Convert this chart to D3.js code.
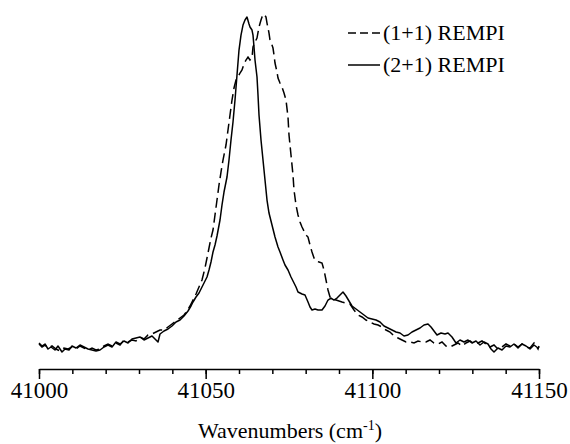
<!DOCTYPE html>
<html>
<head>
<meta charset="utf-8">
<script src="https://d3js.org/d3.v7.min.js"></script>
<style>
  body { margin: 0; background: #fff; }
  text { font-family: "Liberation Serif", "DejaVu Serif", serif; fill: #000; }
</style>
</head>
<body>
<div id="my_dataviz"></div>
<script>

// (1+1) REMPI, dashed trace
var wn11 = [41000,41000.9,41001.8,41002.7,41003.9,41005.1,41006.3,41007.5,41008.7,41009.9,41011.1,41012.3,41013.5,41014.7,41015.9,41017.1,41018.3,41019.5,41020.7,41021.9,41023.1,41024.3,41025.5,41026.7,41027.9,41029.1,41030.3,41031.5,41032.7,41033.9,41035.1,41036.3,41037.5,41038.7,41039.9,41041.1,41042.3,41043.5,41044.4,41045.3,41046.2,41047.1,41048.0,41048.9,41049.8,41050.4,41051.0,41051.6,41052.2,41052.8,41053.4,41054.0,41054.6,41055.2,41056.1,41056.7,41057.3,41057.9,41058.5,41059.1,41059.7,41060.3,41060.9,41061.5,41062.1,41062.7,41063.3,41063.9,41064.2,41064.8,41065.4,41066.0,41066.6,41066.9,41067.5,41068.1,41068.4,41069.0,41069.3,41069.9,41070.2,41070.5,41070.8,41071.4,41071.7,41072.3,41072.9,41073.5,41074.1,41074.7,41075.0,41075.6,41076.2,41076.5,41077.1,41077.7,41078.3,41078.9,41079.5,41080.1,41080.7,41081.3,41081.9,41082.5,41083.1,41084.0,41084.9,41085.5,41086.1,41086.7,41087.3,41088.2,41089.1,41090.0,41090.9,41092.1,41093.3,41094.5,41095.7,41096.9,41098.1,41099.3,41100.5,41101.7,41102.9,41104.1,41105.3,41106.5,41107.7,41108.9,41110.1,41111.3,41112.5,41113.7,41114.9,41116.1,41117.3,41118.5,41119.7,41120.9,41122.1,41123.3,41124.5,41125.7,41126.9,41128.1,41129.3,41130.5,41131.7,41132.9,41134.1,41135.3,41136.5,41137.7,41138.9,41140.1,41141.3,41142.5,41143.7,41144.9,41146.1,41147.3,41148.5,41149.7,41150];
var int11 = [1.8,0.9,1.5,0.6,1.2,0.3,-0.3,0.6,0.3,0.9,0.3,1.2,0.6,0,0.6,0,0.3,1.2,1.8,1.2,2.1,1.5,3.0,2.4,3.0,2.7,3.9,3.3,4.5,4.8,5.4,6.0,6.0,6.9,7.8,8.7,9.6,10.5,11.7,13.2,15.0,16.8,18.9,21.0,24.6,27.6,30.6,33.6,36.0,40.5,45.0,49.5,53.4,57.0,61.5,66.0,70.5,75.0,78.6,81.0,81.9,83.1,84.0,85.8,87.0,87.9,87.0,87.6,90.9,92.4,93.6,96.9,99.0,99.9,100.8,99.9,98.1,95.1,93.0,91.5,90.6,88.5,86.1,83.4,81.6,80.1,78.9,77.1,75.0,69.9,64.5,58.5,52.5,48.0,43.5,40.5,38.4,36.9,35.7,34.5,33.9,31.5,29.4,27.6,26.7,26.4,26.1,24.0,21.0,18.0,15.9,15.3,15.0,14.7,14.4,14.1,13.8,12.0,10.5,9.9,9.0,8.4,7.8,7.5,6.9,6.0,5.4,4.2,3.6,3.0,2.4,2.4,2.1,2.7,2.4,2.4,3.0,2.1,1.8,2.4,1.2,0.9,1.5,2.1,1.2,2.1,2.7,1.8,2.1,2.7,1.8,0.9,1.5,0.3,0.9,1.8,1.2,1.8,0.9,1.8,0.9,0.6,2.1,0.3,1.2];

// (2+1) REMPI, solid trace
var wn21 = [41000,41000.9,41001.8,41002.7,41003.6,41004.8,41005.7,41006.9,41007.8,41009.0,41009.9,41011.1,41012.3,41013.5,41014.7,41015.9,41017.1,41018.3,41019.5,41020.7,41021.9,41023.1,41024.3,41025.5,41026.7,41027.9,41029.1,41030.3,41031.5,41032.7,41033.9,41034.8,41035.7,41036.3,41037.5,41038.7,41039.9,41041.1,41042.3,41043.5,41044.7,41045.6,41046.2,41047.1,41048.0,41048.9,41049.8,41050.4,41051.0,41051.6,41052.2,41052.8,41053.4,41054.3,41054.9,41055.5,41056.4,41057.0,41057.6,41058.2,41058.8,41059.4,41060.0,41060.6,41061.2,41061.8,41062.4,41063.0,41063.3,41063.9,41064.2,41064.5,41064.8,41065.4,41065.7,41066.0,41066.6,41067.2,41067.8,41068.4,41069.0,41069.9,41070.8,41071.7,41072.3,41073.2,41073.8,41074.7,41075.6,41076.2,41077.1,41077.7,41078.9,41079.8,41080.7,41081.3,41081.9,41082.8,41083.7,41084.9,41085.8,41086.7,41087.6,41088.5,41089.4,41090.3,41091.2,41092.1,41093.0,41093.9,41095.1,41096.3,41097.5,41098.7,41099.9,41101.1,41102.3,41103.5,41104.7,41105.9,41107.1,41108.3,41109.5,41110.7,41111.9,41113.1,41114.3,41115.5,41116.7,41117.6,41118.5,41119.4,41120.6,41121.8,41122.7,41123.9,41125.1,41126.3,41127.5,41128.7,41129.9,41131.1,41132.3,41133.5,41134.7,41135.6,41136.5,41137.7,41138.9,41140.1,41141.3,41142.5,41143.7,41144.9,41146.1,41147.3,41148.5,41149.7,41150];
var int21 = [2.1,1.2,1.8,0.3,0.9,0,1.2,-0.6,0.3,0,1.2,0.6,1.5,0.9,0.3,0,-0.3,0,0.9,1.5,0.9,2.4,1.8,2.7,2.1,3.3,3.6,3.9,3.0,3.6,4.2,3.3,2.4,4.8,5.7,6.3,7.2,8.4,9.0,10.2,11.7,13.2,14.4,15.9,17.1,18.9,20.7,21.9,24.0,26.4,29.4,31.5,34.2,39.0,43.5,47.4,51.9,57.0,63.0,68.4,75.0,82.5,90.0,94.5,97.5,99.0,99.9,97.8,96.9,96.0,94.5,90.9,87.0,81.9,76.5,70.5,63.0,57.0,51.0,45.0,41.1,37.5,33.9,30.9,29.4,27.0,25.5,24.0,21.9,20.7,18.9,17.4,16.8,16.5,14.4,12.9,12.0,12.3,12.0,12.0,13.2,15.0,15.6,15.0,15.6,16.5,17.4,16.2,14.7,13.2,12.3,11.4,10.5,9.6,9.3,9.0,8.4,7.2,6.6,6.0,5.4,5.1,4.2,4.5,5.4,6.0,6.6,7.5,7.8,6.9,5.7,4.5,5.1,4.8,5.1,3.9,2.1,3.0,2.4,3.0,2.1,2.7,1.5,2.4,1.8,0.3,-0.6,0.6,0,1.2,0.9,1.8,0.6,1.8,1.2,0.3,1.5,0.6,0.9];

var majorTicks = [41000, 41050, 41100, 41150];
var minorTicks = d3.range(41000, 41151, 10);
var legendLabels = ["(1+1) REMPI", "(2+1) REMPI"];

var width = 570, height = 444;

var svg = d3.select("#my_dataviz")
  .append("svg")
    .attr("width", width)
    .attr("height", height);

var x = d3.scaleLinear()
  .domain([41000, 41150])
  .range([39, 539]);

var y = d3.scaleLinear()
  .domain([0, 100])
  .range([350, 16.7]);

var axisY = 369;

// minor ticks
svg.append("g")
  .attr("transform", "translate(0," + axisY + ")")
  .call(d3.axisBottom(x).tickValues(minorTicks).tickSize(5).tickSizeOuter(0).tickFormat(""))
  .call(function(g){ g.selectAll("line").attr("stroke-width", 1.5); g.select(".domain").remove(); });

// major ticks + labels
svg.append("g")
  .attr("transform", "translate(0," + axisY + ")")
  .call(d3.axisBottom(x).tickValues(majorTicks).tickSize(10).tickSizeOuter(0).tickPadding(3).tickFormat(d3.format("d")))
  .call(function(g){
    g.select(".domain").attr("stroke-width", 1.5);
    g.selectAll("line").attr("stroke-width", 1.5);
    g.selectAll("text")
      .style("font-family", "'Liberation Serif', serif")
      .style("font-size", "23px")
      .attr("fill", "#000");
  });

// axis title
var title = svg.append("text")
  .attr("x", 290)
  .attr("y", 438)
  .attr("text-anchor", "middle")
  .style("font-size", "22px")
  .text("Wavenumbers (cm");
title.append("tspan").attr("dy", -8).style("font-size", "14px").text("-1");
title.append("tspan").attr("dy", 8).text(")");

var line = d3.line()
  .x(function(d){ return x(d[0]); })
  .y(function(d){ return y(d[1]); });

svg.append("path")
  .datum(d3.zip(wn21, int21))
  .attr("fill", "none")
  .attr("stroke", "#000")
  .attr("stroke-width", 1.5)
  .attr("stroke-linejoin", "round")
  .attr("d", line);

svg.append("path")
  .datum(d3.zip(wn11, int11))
  .attr("fill", "none")
  .attr("stroke", "#000")
  .attr("stroke-width", 1.5)
  .attr("stroke-dasharray", "10,5")
  .attr("d", line);

// legend
var legend = svg.append("g");
[["8,4", 33], [null, 65]].forEach(function(s, i){
  legend.append("line")
    .attr("x1", 348).attr("x2", 380)
    .attr("y1", s[1]).attr("y2", s[1])
    .attr("stroke", "#000")
    .attr("stroke-width", 1.5)
    .attr("stroke-dasharray", s[0]);
  legend.append("text")
    .attr("x", 383)
    .attr("y", s[1] + 7)
    .style("font-size", "22px")
    .text(legendLabels[i]);
});

</script>
</body>
</html>
